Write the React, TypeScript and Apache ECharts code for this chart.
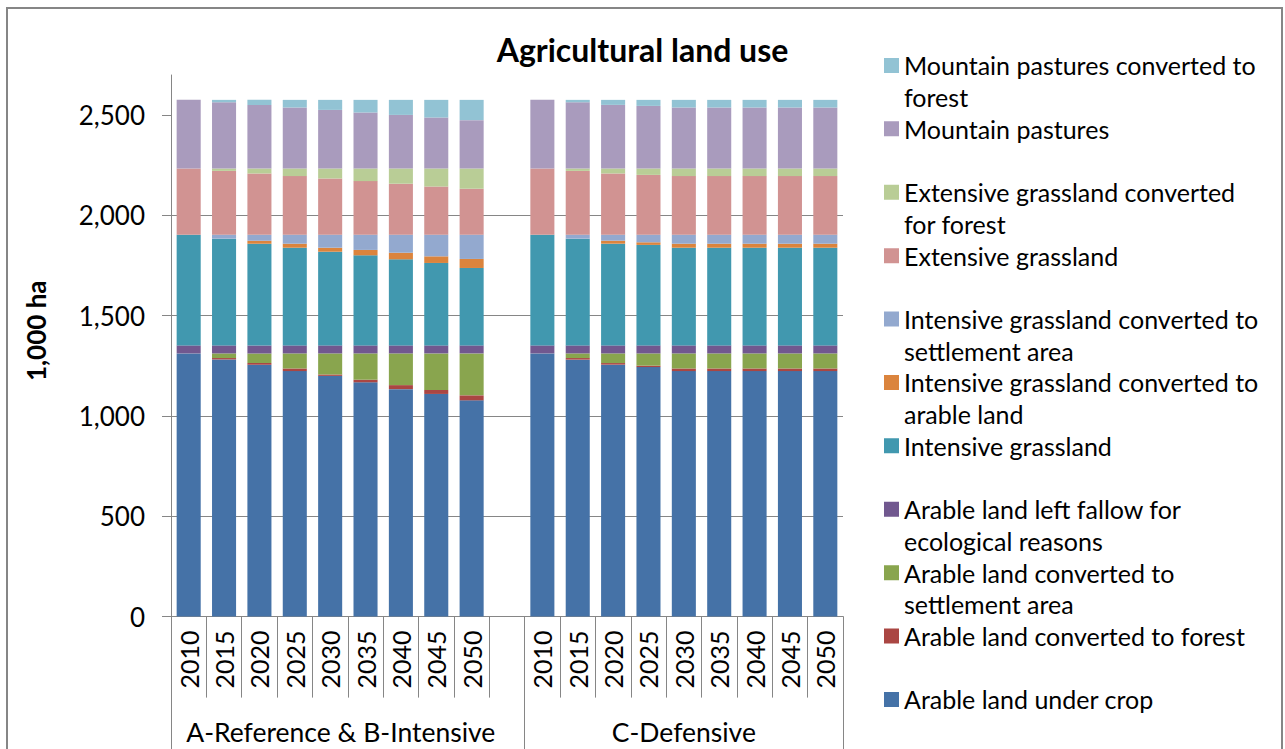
import React, { useEffect, useRef } from 'react';
import * as echarts from 'echarts';

const years = ['2010', '2015', '2020', '2025', '2030', '2035', '2040', '2045', '2050'];
const categories = [...years, '', ...years];
const groupNames = ['A-Reference & B-Intensive', 'C-Defensive'];
const yTicks = [0, 500, 1000, 1500, 2000, 2500];

// series values, 1,000 ha (bottom of stack first)
const arableCrop = [1312, 1282, 1256, 1224, 1200, 1168, 1134, 1110, 1078, null, 1312, 1281, 1256, 1244, 1224, 1224, 1224, 1224, 1224];
const arableForest = [0, 7, 8, 13, 7, 13, 20, 20, 25, null, 0, 8, 8, 7, 13, 13, 13, 13, 13];
const arableSettlement = [0, 23, 48, 75, 105, 131, 158, 182, 209, null, 0, 23, 48, 61, 75, 75, 75, 75, 75];
const arableFallow = [40, 40, 40, 40, 40, 40, 40, 40, 40, null, 40, 40, 40, 40, 40, 40, 40, 40, 40];
const intensive = [552, 532, 507, 487, 467, 449, 429, 411, 386, null, 552, 532, 507, 501, 487, 487, 487, 487, 487];
const intensiveToArable = [0, 0, 15, 20, 20, 27, 33, 33, 45, null, 0, 0, 15, 13, 20, 20, 20, 20, 20];
const intensiveToSettlement = [0, 20, 30, 45, 65, 76, 90, 108, 121, null, 0, 20, 30, 38, 45, 45, 45, 45, 45];
const extensive = [330, 318, 305, 292, 280, 267, 254, 240, 229, null, 330, 318, 305, 298, 292, 292, 292, 292, 292];
const extensiveToForest = [0, 12, 25, 38, 50, 63, 76, 90, 101, null, 0, 12, 25, 32, 38, 38, 38, 38, 38];
const mountain = [342, 330, 317, 304, 292, 279, 267, 254, 241, null, 342, 330, 317, 312, 304, 304, 304, 304, 304];
const mountainToForest = [0, 12, 25, 38, 50, 63, 75, 88, 101, null, 0, 12, 25, 30, 38, 38, 38, 38, 38];

const seriesDefs = [
  { name: 'Arable land under crop', label: 'Arable land under crop', data: arableCrop, color: '#4572A7' },
  { name: 'Arable land converted to forest', label: 'Arable land converted to forest', data: arableForest, color: '#AA4643' },
  { name: 'Arable land converted to settlement area', label: 'Arable land converted to\nsettlement area', data: arableSettlement, color: '#89A54E' },
  { name: 'Arable land left fallow for ecological reasons', label: 'Arable land left fallow for\necological reasons', data: arableFallow, color: '#71588F' },
  { name: 'Intensive grassland', label: 'Intensive grassland', data: intensive, color: '#4198AF' },
  { name: 'Intensive grassland converted to arable land', label: 'Intensive grassland converted to\narable land', data: intensiveToArable, color: '#DB843D' },
  { name: 'Intensive grassland converted to settlement area', label: 'Intensive grassland converted to\nsettlement area', data: intensiveToSettlement, color: '#93A9CF' },
  { name: 'Extensive grassland', label: 'Extensive grassland', data: extensive, color: '#D19392' },
  { name: 'Extensive grassland converted for forest', label: 'Extensive grassland converted\nfor forest', data: extensiveToForest, color: '#B9CD96' },
  { name: 'Mountain pastures', label: 'Mountain pastures', data: mountain, color: '#A99BBD' },
  { name: 'Mountain pastures converted to forest', label: 'Mountain pastures converted to\nforest', data: mountainToForest, color: '#92C3D4' },
];

const FONT = 'Lato, "Open Sans", sans-serif';
const GREY = '#868686';
const LH = 31.7;
const ICON_H = 15 + LH; // square at the top, text's first line aligned with it
const LEGEND_ICON = `path://M0,0L15,0L15,15L0,15Z M0,${ICON_H}L15,${ICON_H}`;

export default function App() {
  const ref = useRef<HTMLDivElement>(null);
  useEffect(() => {
    if (!ref.current) return;
    const chart = echarts.init(ref.current, undefined, { renderer: 'svg' });
    const labelMap: Record<string, string> = {};
    seriesDefs.forEach((s) => {
      labelMap[s.name] = s.label.includes('\n') ? s.label : s.label + '\n ';
    });
    chart.setOption({
      animation: false,
      backgroundColor: '#fff',
      textStyle: { fontFamily: FONT },
      title: {
        text: 'Agricultural land use',
        left: 'center',
        top: 28,
        textStyle: { fontFamily: FONT, fontWeight: 'bold', fontSize: 32, color: '#000' },
      },
      graphic: [
        {
          type: 'rect',
          shape: { x: 7, y: 8, width: 1275, height: 780 },
          style: { fill: 'none', stroke: GREY, lineWidth: 2 },
          silent: true,
        },
      ],
      legend: {
        orient: 'vertical',
        left: 884,
        top: 49.6,
        padding: 0,
        itemGap: 0,
        itemWidth: 15,
        itemHeight: ICON_H,
        icon: LEGEND_ICON,
        data: seriesDefs.map((s) => s.name).reverse(),
        formatter: (n: string) => labelMap[n],
        textStyle: {
          fontFamily: FONT,
          fontSize: 25,
          color: '#000',
          lineHeight: LH,
        },
      },
      grid: { left: 171, right: 442, top: 75, bottom: 132.4 },
      xAxis: [
        {
          type: 'category',
          data: categories,
          axisLine: { show: true, lineStyle: { color: GREY, width: 1 } },
          axisTick: { show: true, interval: 0, alignWithLabel: false, length: 81, lineStyle: { color: GREY } },
          axisLabel: { interval: 0, rotate: 90, margin: 14, fontFamily: FONT, fontSize: 25, color: '#000' },
        },
        {
          type: 'value',
          position: 'bottom',
          min: 0,
          max: categories.length,
          axisLine: { show: false },
          splitLine: { show: false },
          axisTick: { show: true, customValues: [0, 10, categories.length], length: 140, lineStyle: { color: GREY } },
          axisLabel: {
            customValues: [4.8, 14.5],
            formatter: (v: number) => (v < 10 ? groupNames[0] : groupNames[1]),
            margin: 102,
            fontFamily: FONT,
            fontSize: 26.5,
            color: '#000',
          },
        },
      ],
      yAxis: {
        type: 'value',
        min: 0,
        max: 2700,
        interval: 500,
        name: '1,000 ha',
        nameLocation: 'middle',
        nameGap: 122,
        nameTextStyle: { fontFamily: FONT, fontWeight: 'bold', fontSize: 26, color: '#000', padding: [0, 0, 0, 30] },
        axisLine: { show: true, lineStyle: { color: GREY, width: 1 } },
        axisTick: { show: true, length: 9, customValues: yTicks, lineStyle: { color: GREY } },
        axisLabel: {
          customValues: yTicks,
          margin: 26,
          fontFamily: FONT,
          fontSize: 26,
          color: '#000',
          formatter: (v: number) => v.toLocaleString('en-US'),
        },
        splitLine: { show: true, showMaxLine: false, lineStyle: { color: GREY, width: 1 } },
      },
      series: seriesDefs.map((s) => ({
        type: 'bar',
        name: s.name,
        stack: 'total',
        data: s.data,
        barCategoryGap: '32%',
        itemStyle: { color: s.color },
        emphasis: { disabled: true },
      })),
    });
    return () => chart.dispose();
  }, []);
  return <div ref={ref} style={{ position: 'absolute', left: 0, top: 0, width: 1285, height: 749 }} />;
}
